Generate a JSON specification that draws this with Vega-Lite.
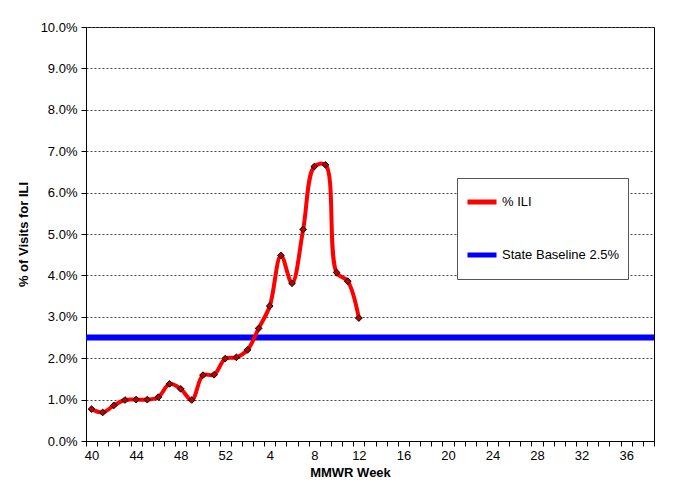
{
  "$schema": "https://vega.github.io/schema/vega-lite/v6.json",
  "width": 568,
  "height": 414,
  "autosize": {"type": "none"},
  "padding": {"left": 86, "top": 27, "right": 34, "bottom": 51},
  "background": "white",
  "datasets": {
    "ili": [
      {"week": "40", "pct": 0.0077, "series": "% ILI"},
      {"week": "41", "pct": 0.0069, "series": "% ILI"},
      {"week": "42", "pct": 0.0086, "series": "% ILI"},
      {"week": "43", "pct": 0.0099, "series": "% ILI"},
      {"week": "44", "pct": 0.0100, "series": "% ILI"},
      {"week": "45", "pct": 0.0100, "series": "% ILI"},
      {"week": "46", "pct": 0.0106, "series": "% ILI"},
      {"week": "47", "pct": 0.0138, "series": "% ILI"},
      {"week": "48", "pct": 0.0126, "series": "% ILI"},
      {"week": "49", "pct": 0.0099, "series": "% ILI"},
      {"week": "50", "pct": 0.0159, "series": "% ILI"},
      {"week": "51", "pct": 0.0160, "series": "% ILI"},
      {"week": "52", "pct": 0.0199, "series": "% ILI"},
      {"week": "1", "pct": 0.0202, "series": "% ILI"},
      {"week": "2", "pct": 0.0220, "series": "% ILI"},
      {"week": "3", "pct": 0.0272, "series": "% ILI"},
      {"week": "4", "pct": 0.0326, "series": "% ILI"},
      {"week": "5", "pct": 0.0448, "series": "% ILI"},
      {"week": "6", "pct": 0.0381, "series": "% ILI"},
      {"week": "7", "pct": 0.0511, "series": "% ILI"},
      {"week": "8", "pct": 0.0663, "series": "% ILI"},
      {"week": "9", "pct": 0.0667, "series": "% ILI"},
      {"week": "10", "pct": 0.0407, "series": "% ILI"},
      {"week": "11", "pct": 0.0386, "series": "% ILI"},
      {"week": "12", "pct": 0.0297, "series": "% ILI"}
    ],
    "baseline": [
      {"series": "State Baseline 2.5%", "pct": 0.025}
    ]
  },
  "config": {
    "font": "Liberation Sans",
    "view": {"stroke": "black", "strokeWidth": 1},
    "axis": {
      "labelFont": "Liberation Sans",
      "labelFontSize": 13,
      "labelColor": "black",
      "titleFont": "Liberation Sans",
      "titleFontSize": 13,
      "titleFontWeight": "bold",
      "titleColor": "black",
      "domainColor": "black",
      "tickColor": "black",
      "tickSize": 5
    },
    "legend": {
      "labelFont": "Liberation Sans",
      "labelFontSize": 13,
      "labelColor": "black"
    }
  },
  "encoding": {
    "y": {
      "field": "pct",
      "type": "quantitative",
      "scale": {"domain": [0, 0.1], "nice": false},
      "axis": {
        "title": "% of Visits for ILI",
        "format": ".1%",
        "values": [0, 0.01, 0.02, 0.03, 0.04, 0.05, 0.06, 0.07, 0.08, 0.09, 0.1],
        "grid": true,
        "gridColor": "#444",
        "gridDash": [2, 2],
        "gridWidth": 1,
        "labelPadding": 4,
        "titlePadding": 10
      }
    },
    "color": {
      "field": "series",
      "type": "nominal",
      "scale": {"domain": ["% ILI", "State Baseline 2.5%"], "range": ["#FF0000", "#0000FF"]},
      "legend": {
        "title": null,
        "orient": "none",
        "legendX": 371,
        "legendY": 151,
        "direction": "vertical",
        "fillColor": "white",
        "strokeColor": "#555",
        "padding": 8,
        "symbolType": "stroke",
        "symbolSize": 841,
        "symbolStrokeWidth": 5,
        "labelOffset": 3,
        "rowPadding": 21,
        "clipHeight": 32
      }
    }
  },
  "layer": [
    {
      "data": {"name": "baseline"},
      "mark": {"type": "rule", "strokeWidth": 6},
      "encoding": {}
    },
    {
      "data": {"name": "ili"},
      "mark": {"type": "line", "interpolate": "catmull-rom", "strokeWidth": 4},
      "encoding": {
        "x": {
          "field": "week",
          "type": "ordinal",
          "sort": null,
          "scale": {
            "domain": ["40","41","42","43","44","45","46","47","48","49","50","51","52","1","2","3","4","5","6","7","8","9","10","11","12","13","14","15","16","17","18","19","20","21","22","23","24","25","26","27","28","29","30","31","32","33","34","35","36","37","38"],
            "paddingInner": 0,
            "paddingOuter": 0
          },
          "axis": {
            "title": "MMWR Week",
            "labelAngle": 0,
            "tickBand": "extent",
            "grid": false,
            "labelPadding": 3,
            "titlePadding": 4,
            "titleX": 264,
            "labelExpr": "indexof(['40','44','48','52','4','8','12','16','20','24','28','32','36'], datum.value) >= 0 ? datum.value : ''"
          }
        }
      }
    },
    {
      "data": {"name": "ili"},
      "mark": {"type": "point", "shape": "diamond", "filled": true, "stroke": "black", "strokeWidth": 1, "size": 45, "opacity": 1},
      "encoding": {
        "x": {"field": "week", "type": "ordinal", "sort": null},
        "color": {"value": "#C00000"}
      }
    }
  ]
}
